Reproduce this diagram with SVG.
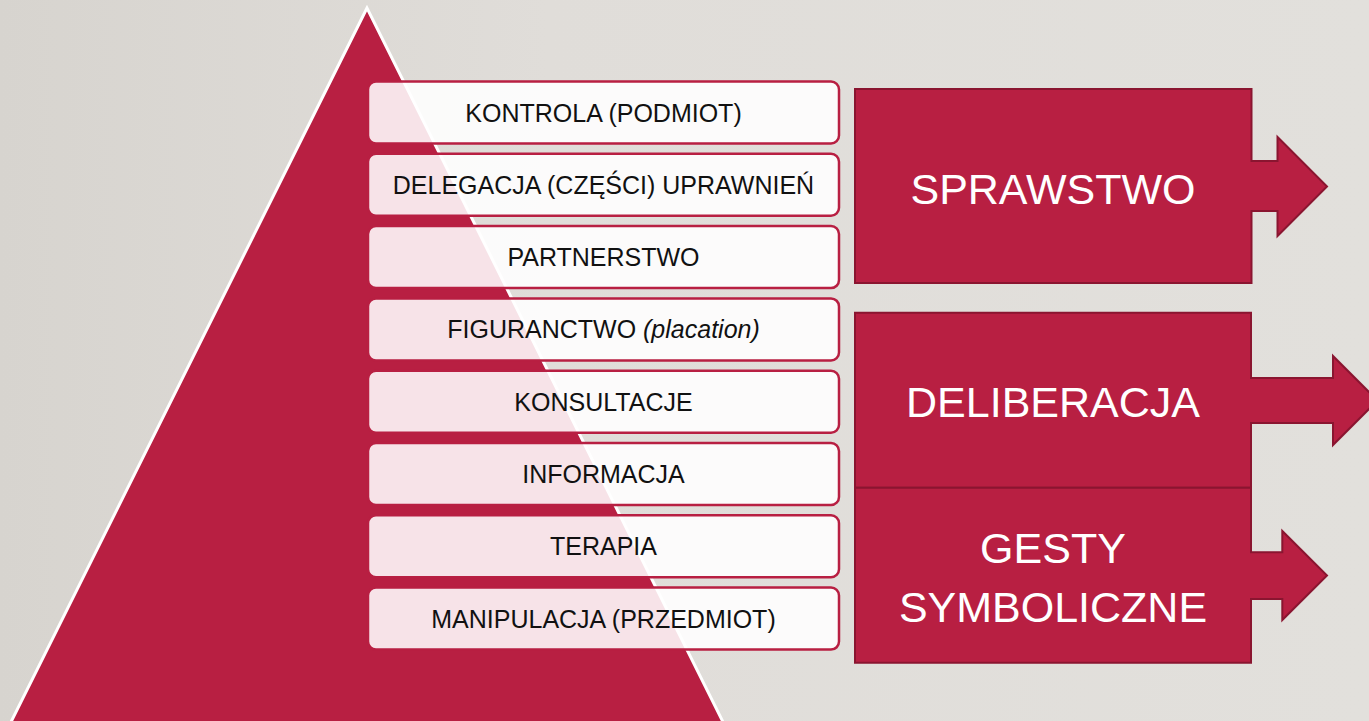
<svg xmlns="http://www.w3.org/2000/svg" width="1369" height="721" viewBox="0 0 1369 721">
  <defs>
    <linearGradient id="bg" x1="0" y1="0" x2="1" y2="0">
      <stop offset="0" stop-color="#D7D4CF"/>
      <stop offset="0.4" stop-color="#E0DDD9"/>
      <stop offset="1" stop-color="#E2E0DC"/>
    </linearGradient>
    <style>
      .lvl rect { fill: #FFFFFF; fill-opacity: 0.88; stroke: #B81F42; stroke-width: 2.5; }
      .lvl text { font-family: "Liberation Sans", Arial, sans-serif; font-size: 25px; fill: #111111; text-anchor: middle; }
      .grp path { fill: #B81F42; stroke: #8A1530; stroke-width: 2; stroke-linejoin: miter; }
      .grp text { font-family: "Liberation Sans", Arial, sans-serif; font-size: 43px; fill: #FFFFFF; text-anchor: middle; }
    </style>
  </defs>
  <rect x="0" y="0" width="1369" height="721" fill="url(#bg)"/>

  <g id="pyramid">
    <polygon points="367,8 7,730 727,730" fill="#B81F42" stroke="#FFFFFF" stroke-width="3" stroke-linejoin="miter"/>
  </g>

  <g id="level-kontrola" class="lvl">
    <rect x="368" y="81.5" width="471" height="62" rx="8"/>
    <text x="603.5" y="121.5">KONTROLA (PODMIOT)</text>
  </g>
  <g id="level-delegacja" class="lvl">
    <rect x="368" y="153.8" width="471" height="62" rx="8"/>
    <text x="603.5" y="193.8">DELEGACJA (CZĘŚCI) UPRAWNIEŃ</text>
  </g>
  <g id="level-partnerstwo" class="lvl">
    <rect x="368" y="226.1" width="471" height="62" rx="8"/>
    <text x="603.5" y="266.1">PARTNERSTWO</text>
  </g>
  <g id="level-figuranctwo" class="lvl">
    <rect x="368" y="298.4" width="471" height="62" rx="8"/>
    <text x="603.5" y="338.4">FIGURANCTWO <tspan font-style="italic">(placation)</tspan></text>
  </g>
  <g id="level-konsultacje" class="lvl">
    <rect x="368" y="370.7" width="471" height="62" rx="8"/>
    <text x="603.5" y="410.7">KONSULTACJE</text>
  </g>
  <g id="level-informacja" class="lvl">
    <rect x="368" y="443" width="471" height="62" rx="8"/>
    <text x="603.5" y="483">INFORMACJA</text>
  </g>
  <g id="level-terapia" class="lvl">
    <rect x="368" y="515.3" width="471" height="62" rx="8"/>
    <text x="603.5" y="555.3">TERAPIA</text>
  </g>
  <g id="level-manipulacja" class="lvl">
    <rect x="368" y="587.6" width="471" height="62" rx="8"/>
    <text x="603.5" y="627.6">MANIPULACJA (PRZEDMIOT)</text>
  </g>

  <g id="group-sprawstwo" class="grp">
    <path d="M855,89 H1251.5 V161 H1277.5 V137 L1327,186.5 L1277.5,236 V211 H1251.5 V283 H855 Z"/>
    <text x="1053" y="204">SPRAWSTWO</text>
  </g>
  <g id="group-deliberacja" class="grp">
    <path d="M855,312.7 H1251 V378 H1333 V356 L1377.5,400.5 L1333,445 V423 H1251 V487.7 H855 Z"/>
    <text x="1053" y="417" font-size="42">DELIBERACJA</text>
  </g>
  <g id="group-gesty" class="grp">
    <path d="M855,487.7 H1251 V552.3 H1282.3 V531 L1327,575.5 L1282.3,620 V599 H1251 V662.7 H855 Z"/>
    <text x="1053" y="563">GESTY</text>
    <text x="1053" y="621.7">SYMBOLICZNE</text>
  </g>

  <g id="connectors"/>
</svg>
